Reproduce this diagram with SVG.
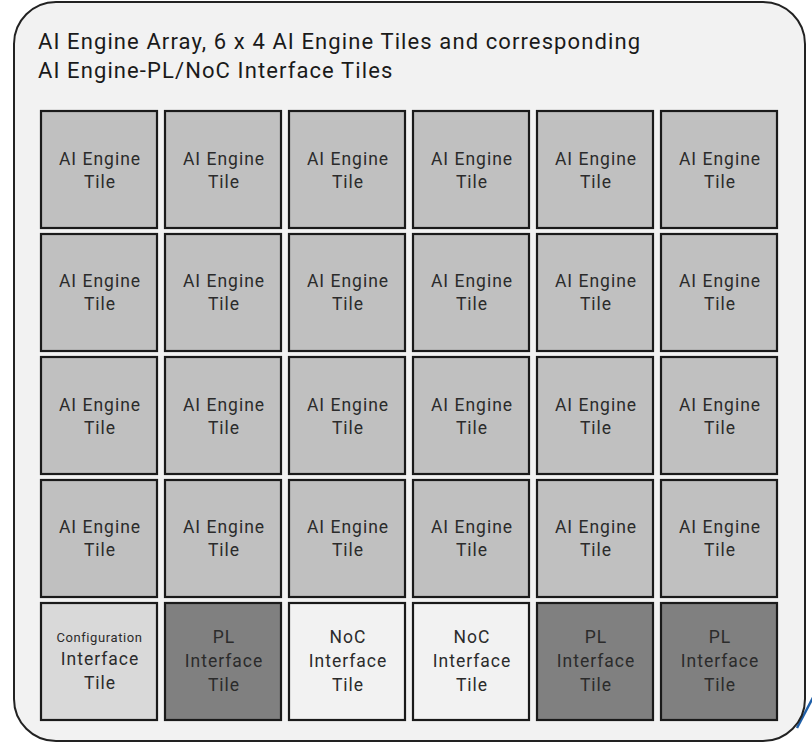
<svg xmlns="http://www.w3.org/2000/svg" width="812" height="743" viewBox="0 0 812 743">
<style>
.t{stroke:#1a1a1a;stroke-width:2.2}
.ai{fill:#c0c0c0}.cfg{fill:#d9d9d9}.pl{fill:#808080}.noc{fill:#f2f2f2}
text{font-family:Roboto,"Liberation Sans",sans-serif;fill:#2b2b2b;text-anchor:middle}
.l{font-size:17.5px;letter-spacing:1px}.s{font-size:13px;letter-spacing:0.6px}
.title{font-size:22px;letter-spacing:1.1px;text-anchor:start;fill:#1a1a1a}
</style>
<line x1="818" y1="688" x2="797" y2="728" stroke="#1f5fa8" stroke-width="2.5"/>
<rect id="array" x="14" y="2" width="791" height="739" rx="42" ry="42" fill="#f2f2f2" stroke="#222" stroke-width="2"/>
<text class="title" x="38" y="49">AI Engine Array, 6 x 4 AI Engine Tiles and corresponding</text>
<text class="title" x="38" y="78">AI Engine-PL/NoC Interface Tiles</text>
<g id="r1">
<g id="t11"><rect class="t ai" x="41" y="111" width="116" height="117"/><text class="l" x="100" y="165">AI Engine</text><text class="l" x="100" y="188">Tile</text></g>
<g id="t12"><rect class="t ai" x="165" y="111" width="116" height="117"/><text class="l" x="224" y="165">AI Engine</text><text class="l" x="224" y="188">Tile</text></g>
<g id="t13"><rect class="t ai" x="289" y="111" width="116" height="117"/><text class="l" x="348" y="165">AI Engine</text><text class="l" x="348" y="188">Tile</text></g>
<g id="t14"><rect class="t ai" x="413" y="111" width="116" height="117"/><text class="l" x="472" y="165">AI Engine</text><text class="l" x="472" y="188">Tile</text></g>
<g id="t15"><rect class="t ai" x="537" y="111" width="116" height="117"/><text class="l" x="596" y="165">AI Engine</text><text class="l" x="596" y="188">Tile</text></g>
<g id="t16"><rect class="t ai" x="661" y="111" width="116" height="117"/><text class="l" x="720" y="165">AI Engine</text><text class="l" x="720" y="188">Tile</text></g>
</g>
<g id="r2">
<g id="t21"><rect class="t ai" x="41" y="234" width="116" height="117"/><text class="l" x="100" y="287">AI Engine</text><text class="l" x="100" y="310">Tile</text></g>
<g id="t22"><rect class="t ai" x="165" y="234" width="116" height="117"/><text class="l" x="224" y="287">AI Engine</text><text class="l" x="224" y="310">Tile</text></g>
<g id="t23"><rect class="t ai" x="289" y="234" width="116" height="117"/><text class="l" x="348" y="287">AI Engine</text><text class="l" x="348" y="310">Tile</text></g>
<g id="t24"><rect class="t ai" x="413" y="234" width="116" height="117"/><text class="l" x="472" y="287">AI Engine</text><text class="l" x="472" y="310">Tile</text></g>
<g id="t25"><rect class="t ai" x="537" y="234" width="116" height="117"/><text class="l" x="596" y="287">AI Engine</text><text class="l" x="596" y="310">Tile</text></g>
<g id="t26"><rect class="t ai" x="661" y="234" width="116" height="117"/><text class="l" x="720" y="287">AI Engine</text><text class="l" x="720" y="310">Tile</text></g>
</g>
<g id="r3">
<g id="t31"><rect class="t ai" x="41" y="357" width="116" height="117"/><text class="l" x="100" y="411">AI Engine</text><text class="l" x="100" y="434">Tile</text></g>
<g id="t32"><rect class="t ai" x="165" y="357" width="116" height="117"/><text class="l" x="224" y="411">AI Engine</text><text class="l" x="224" y="434">Tile</text></g>
<g id="t33"><rect class="t ai" x="289" y="357" width="116" height="117"/><text class="l" x="348" y="411">AI Engine</text><text class="l" x="348" y="434">Tile</text></g>
<g id="t34"><rect class="t ai" x="413" y="357" width="116" height="117"/><text class="l" x="472" y="411">AI Engine</text><text class="l" x="472" y="434">Tile</text></g>
<g id="t35"><rect class="t ai" x="537" y="357" width="116" height="117"/><text class="l" x="596" y="411">AI Engine</text><text class="l" x="596" y="434">Tile</text></g>
<g id="t36"><rect class="t ai" x="661" y="357" width="116" height="117"/><text class="l" x="720" y="411">AI Engine</text><text class="l" x="720" y="434">Tile</text></g>
</g>
<g id="r4">
<g id="t41"><rect class="t ai" x="41" y="480" width="116" height="117"/><text class="l" x="100" y="533">AI Engine</text><text class="l" x="100" y="556">Tile</text></g>
<g id="t42"><rect class="t ai" x="165" y="480" width="116" height="117"/><text class="l" x="224" y="533">AI Engine</text><text class="l" x="224" y="556">Tile</text></g>
<g id="t43"><rect class="t ai" x="289" y="480" width="116" height="117"/><text class="l" x="348" y="533">AI Engine</text><text class="l" x="348" y="556">Tile</text></g>
<g id="t44"><rect class="t ai" x="413" y="480" width="116" height="117"/><text class="l" x="472" y="533">AI Engine</text><text class="l" x="472" y="556">Tile</text></g>
<g id="t45"><rect class="t ai" x="537" y="480" width="116" height="117"/><text class="l" x="596" y="533">AI Engine</text><text class="l" x="596" y="556">Tile</text></g>
<g id="t46"><rect class="t ai" x="661" y="480" width="116" height="117"/><text class="l" x="720" y="533">AI Engine</text><text class="l" x="720" y="556">Tile</text></g>
</g>
<g id="r5">
<g id="cfg"><rect class="t cfg" x="41" y="603" width="116" height="117"/><text class="s" x="99.5" y="642">Configuration</text><text class="l" x="100" y="665">Interface</text><text class="l" x="100" y="689">Tile</text></g>
<g id="pl1"><rect class="t pl" x="165" y="603" width="116" height="117"/><text class="l" x="224" y="643">PL</text><text class="l" x="224" y="667">Interface</text><text class="l" x="224" y="691">Tile</text></g>
<g id="noc1"><rect class="t noc" x="289" y="603" width="116" height="117"/><text class="l" x="348" y="643">NoC</text><text class="l" x="348" y="667">Interface</text><text class="l" x="348" y="691">Tile</text></g>
<g id="noc2"><rect class="t noc" x="413" y="603" width="116" height="117"/><text class="l" x="472" y="643">NoC</text><text class="l" x="472" y="667">Interface</text><text class="l" x="472" y="691">Tile</text></g>
<g id="pl2"><rect class="t pl" x="537" y="603" width="116" height="117"/><text class="l" x="596" y="643">PL</text><text class="l" x="596" y="667">Interface</text><text class="l" x="596" y="691">Tile</text></g>
<g id="pl3"><rect class="t pl" x="661" y="603" width="116" height="117"/><text class="l" x="720" y="643">PL</text><text class="l" x="720" y="667">Interface</text><text class="l" x="720" y="691">Tile</text></g>
</g>
</svg>
